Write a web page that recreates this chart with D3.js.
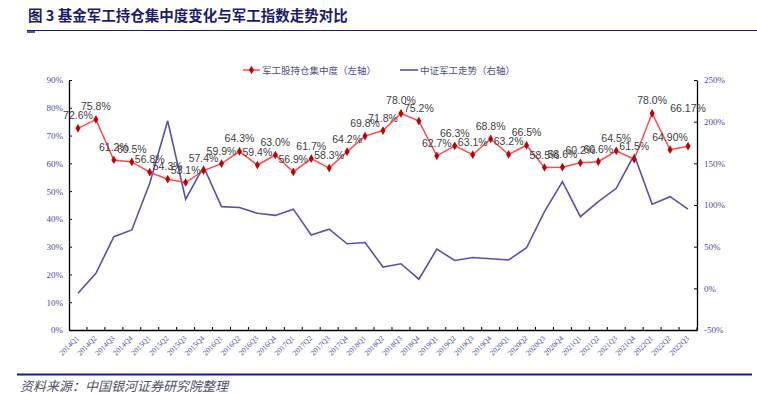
<!DOCTYPE html>
<html>
<head>
<meta charset="utf-8">
<script src="https://cdn.jsdelivr.net/npm/d3@7"></script>
<style>
  body { margin: 0; background: #fff; }
  svg { display: block; }
</style>
</head>
<body>
<div id="chart"></div>
<script>
// data
var quarters = ["2014Q1","2014Q2","2014Q3","2014Q4","2015Q1","2015Q2","2015Q3","2015Q4",
  "2016Q1","2016Q2","2016Q3","2016Q4","2017Q1","2017Q2","2017Q3","2017Q4",
  "2018Q1","2018Q2","2018Q3","2018Q4","2019Q1","2019Q2","2019Q3","2019Q4",
  "2020Q1","2020Q2","2020Q3","2020Q4","2021Q1","2021Q2","2021Q3","2021Q4",
  "2022Q1","2022Q2","2022Q3"];

// fund holding concentration (left axis, %)
var holding = [72.6, 75.8, 61.2, 60.5, 56.8, 54.3, 53.1, 57.4, 59.9, 64.3, 59.4, 63.0,
  56.9, 61.7, 58.3, 64.2, 69.8, 71.8, 78.0, 75.2, 62.7, 66.3, 63.1, 68.8,
  63.2, 66.5, 58.5, 58.6, 60.2, 60.6, 64.5, 61.5, 78.0, 64.90, 66.17];
var holdingLabels = ["72.6%","75.8%","61.2%","60.5%","56.8%","54.3%","53.1%","57.4%","59.9%",
  "64.3%","59.4%","63.0%","56.9%","61.7%","58.3%","64.2%","69.8%","71.8%","78.0%","75.2%",
  "62.7%","66.3%","63.1%","68.8%","63.2%","66.5%","58.5%","58.6%","60.2%","60.6%","64.5%",
  "61.5%","78.0%","64.90%","66.17%"];

// CSI defense index trend (right axis, %)
var index = [-6, 18, 62, 70, 126, 201, 107, 146, 98, 97, 90, 87.5, 95, 64, 71, 53.5,
  55, 25.5, 29.5, 11, 47, 33.5, 37, 35.5, 34, 48.7, 92, 128, 86, 104, 120, 160,
  101, 110, 95];

var leftTicks = [0, 10, 20, 30, 40, 50, 60, 70, 80, 90];
var rightTicks = [-50, 0, 50, 100, 150, 200, 250];

var W = 757, H = 394;
var plot = {left: 69, right: 697, top: 80, bottom: 330};

var svg = d3.select("#chart").append("svg")
  .attr("width", W)
  .attr("height", H);

// title
svg.append("text")
  .attr("x", 28)
  .attr("y", 21)
  .style("font-family", "'Noto Sans CJK SC', sans-serif")
  .style("font-weight", "bold")
  .style("font-size", "14.5px")
  .style("fill", "#1c1c6c")
  .text("图 3 基金军工持仓集中度变化与军工指数走势对比");

svg.append("line")
  .attr("x1", 27).attr("x2", 757)
  .attr("y1", 30.5).attr("y2", 30.5)
  .style("stroke", "#1c1c80").style("stroke-width", 1.2);
svg.append("line")
  .attr("x1", 27).attr("x2", 35)
  .attr("y1", 32).attr("y2", 32)
  .style("stroke", "#1c1c80").style("stroke-width", 1.5);

// scales
var x = d3.scalePoint()
  .domain(quarters)
  .range([plot.left, plot.right])
  .padding(0.5);

var yL = d3.scaleLinear().domain([0, 90]).range([plot.bottom, plot.top]);
var yR = d3.scaleLinear().domain([-50, 250]).range([plot.bottom, plot.top]);

var axisColor = "#4b4ba0";

// left axis
var gl = svg.append("g")
  .attr("transform", "translate(" + plot.left + ",0)")
  .call(d3.axisLeft(yL).tickValues(leftTicks).tickSizeInner(-3).tickSizeOuter(0)
    .tickFormat(function(d) { return d + "%"; }));

// right axis
var gr = svg.append("g")
  .attr("transform", "translate(" + plot.right + ",0)")
  .call(d3.axisRight(yR).tickValues(rightTicks).tickSizeInner(-3).tickSizeOuter(0)
    .tickFormat(function(d) { return d + "%"; }));

// x axis
var gx = svg.append("g")
  .attr("transform", "translate(0," + plot.bottom + ")")
  .call(d3.axisBottom(x).tickSizeInner(0).tickSizeOuter(0));

// ticks between categories on x axis
var step = x.step();
svg.append("g").selectAll("line")
  .data(quarters)
  .enter().append("line")
  .attr("x1", function(d) { return x(d) + step / 2; })
  .attr("x2", function(d) { return x(d) + step / 2; })
  .attr("y1", plot.bottom - 3)
  .attr("y2", plot.bottom)
  .style("stroke", "#000");

[gl, gr, gx].forEach(function(g) {
  g.select(".domain").style("stroke", "#000").style("stroke-width", 1.3);
  g.selectAll(".tick line").style("stroke", "#000");
  g.selectAll("text")
    .style("font-family", "'Liberation Serif', 'DejaVu Serif', serif")
    .style("font-size", "9px")
    .style("fill", axisColor);
});
gl.selectAll("text").attr("x", -6);
gr.selectAll("text").attr("x", 7);

gx.selectAll("text")
  .style("font-size", "7.5px")
  .style("text-anchor", "end")
  .attr("dy", "0.35em")
  .attr("y", 0)
  .attr("transform", "translate(-1,7) rotate(-45)");

// index line
var lineR = d3.line()
  .x(function(d, i) { return x(quarters[i]); })
  .y(function(d) { return yR(d); });

svg.append("path")
  .datum(index)
  .attr("d", lineR)
  .style("fill", "none")
  .style("stroke", "#5a4fb0")
  .style("stroke-width", 1.6);

// holding line
var lineL = d3.line()
  .x(function(d, i) { return x(quarters[i]); })
  .y(function(d) { return yL(d); });

svg.append("path")
  .datum(holding)
  .attr("d", lineL)
  .style("fill", "none")
  .style("stroke", "#ff4a4a")
  .style("stroke-width", 1.5);

var diamond = d3.symbol().type(d3.symbolDiamond).size(22);

svg.selectAll(".dot")
  .data(holding)
  .enter().append("path")
  .attr("class", "dot")
  .attr("d", diamond)
  .attr("transform", function(d, i) { return "translate(" + x(quarters[i]) + "," + yL(d) + ")"; })
  .style("fill", "#c00000");

// data labels (last one sits higher, as in the source)
var last = holding.length - 1;
svg.selectAll(".lbl")
  .data(holding)
  .enter().append("text")
  .attr("class", "lbl")
  .attr("x", function(d, i) { return x(quarters[i]); })
  .attr("y", function(d, i) { return yL(d) - (i === last ? 34 : 9); })
  .attr("text-anchor", "middle")
  .style("font-family", "'Liberation Sans', 'DejaVu Sans', sans-serif")
  .style("font-size", "10.5px")
  .style("fill", "#404040")
  .text(function(d, i) { return holdingLabels[i]; });

// legend
var leg = svg.append("g")
  .style("font-family", "'Noto Sans CJK SC', sans-serif")
  .style("font-size", "9.5px");

leg.append("line")
  .attr("x1", 243).attr("x2", 260).attr("y1", 70).attr("y2", 70)
  .style("stroke", "#ff4a4a").style("stroke-width", 1.5);
leg.append("path")
  .attr("d", diamond)
  .attr("transform", "translate(251.5,70)")
  .style("fill", "#c00000");
leg.append("text")
  .attr("x", 262).attr("y", 73.5)
  .style("fill", "#50508a")
  .text("军工股持仓集中度（左轴）");

leg.append("line")
  .attr("x1", 400).attr("x2", 418).attr("y1", 70).attr("y2", 70)
  .style("stroke", "#5a4fb0").style("stroke-width", 1.6);
leg.append("text")
  .attr("x", 420).attr("y", 73.5)
  .style("fill", "#50508a")
  .text("中证军工走势（右轴）");

// footer
svg.append("line")
  .attr("x1", 17).attr("x2", 752)
  .attr("y1", 374.5).attr("y2", 374.5)
  .style("stroke", "#1c1c80").style("stroke-width", 2.2);

svg.append("text")
  .attr("x", 20)
  .attr("y", 391)
  .style("font-family", "'Noto Sans CJK SC', sans-serif")
  .style("font-style", "italic")
  .style("font-size", "13px")
  .style("fill", "#50506a")
  .text("资料来源：中国银河证券研究院整理");
</script>
</body>
</html>
